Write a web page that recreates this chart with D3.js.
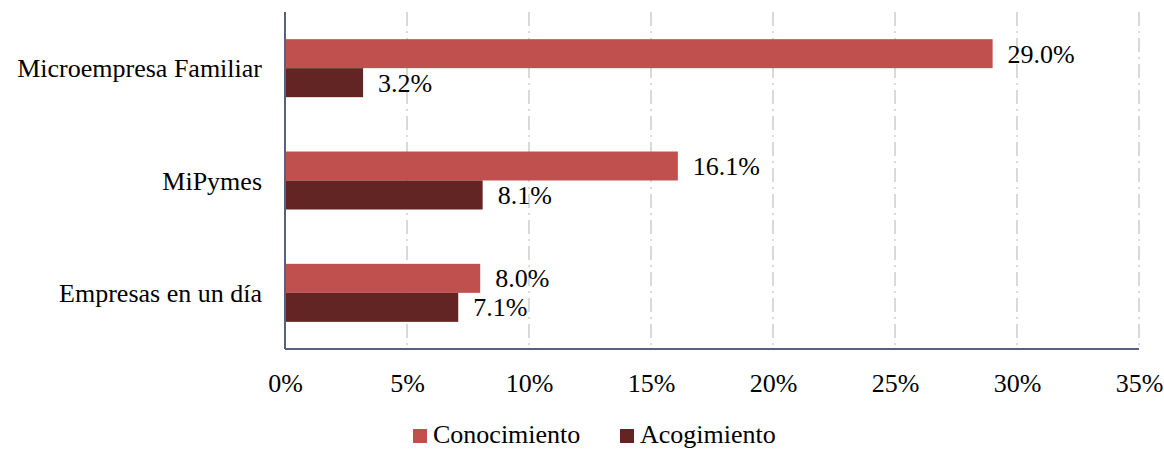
<!DOCTYPE html>
<html>
<head>
<meta charset="utf-8">
<script src="https://cdn.jsdelivr.net/npm/d3@7"></script>
<style>
  body { margin: 0; background: #fff; }
</style>
</head>
<body>
<div id="chart"></div>
<script>
// data
const categories = ["Microempresa Familiar", "MiPymes", "Empresas en un día"];
const seriesNames = ["Conocimiento", "Acogimiento"];
const conocimiento = [29.0, 16.1, 8.0];
const acogimiento = [3.2, 8.1, 7.1];
const xTicks = [0, 5, 10, 15, 20, 25, 30, 35];
const colors = ["#C0504D", "#632523"];

const fontFam = '"Liberation Serif"';
const fs = 26;

const width = 1164, height = 450;
const margin = { top: 12, right: 25, bottom: 101, left: 285 };
const innerW = width - margin.left - margin.right;
const innerH = height - margin.top - margin.bottom;

const svg = d3.select("#chart").append("svg")
  .attr("width", width)
  .attr("height", height);

const g = svg.append("g").attr("transform", `translate(${margin.left},${margin.top})`);

const x = d3.scaleLinear().domain([0, 35]).range([0, innerW]);
const y = d3.scaleBand().domain(categories).range([0, innerH]);
const barH = 29;

// gridlines
g.selectAll("line.grid")
  .data(xTicks.filter(t => t > 0))
  .enter().append("line")
  .attr("class", "grid")
  .attr("x1", d => x(d)).attr("x2", d => x(d))
  .attr("y1", 0).attr("y2", innerH)
  .attr("stroke", "#d9d9d9")
  .attr("stroke-width", 2)
  .attr("stroke-dasharray", "14,5,2,5");

// bars
const rows = categories.map((c, i) => ({ cat: c, vals: [conocimiento[i], acogimiento[i]] }));
const grp = g.selectAll("g.row").data(rows).enter().append("g")
  .attr("transform", d => `translate(0,${y(d.cat) + y.bandwidth() / 2 - barH})`);

grp.selectAll("rect").data(d => d.vals).enter().append("rect")
  .attr("x", 0)
  .attr("y", (d, i) => i * barH)
  .attr("width", d => x(d))
  .attr("height", barH)
  .attr("fill", (d, i) => colors[i]);

grp.selectAll("text.val").data(d => d.vals).enter().append("text")
  .attr("class", "val")
  .attr("x", d => x(d) + 15)
  .attr("y", (d, i) => i * barH + barH / 2)
  .attr("dy", "0.35em")
  .text(d => d.toFixed(1) + "%");

// axes
const xAxis = g.append("g").attr("transform", `translate(0,${innerH})`)
  .call(d3.axisBottom(x).tickValues(xTicks).tickSize(0).tickFormat(d => d + "%"));
xAxis.select(".domain").remove();
xAxis.selectAll("text").attr("dy", 0).attr("y", 43);

const yAxis = g.append("g")
  .call(d3.axisLeft(y).tickSize(0));
yAxis.select(".domain").remove();
yAxis.selectAll("text").attr("x", -23).attr("dy", "0.35em");

g.append("line").attr("x1", 0).attr("x2", 0).attr("y1", 0).attr("y2", innerH)
  .attr("stroke", "#56627a").attr("stroke-width", 2);
g.append("line").attr("x1", 0).attr("x2", innerW).attr("y1", innerH).attr("y2", innerH)
  .attr("stroke", "#56627a").attr("stroke-width", 2);

// legend
const legendX = [413, 620];
const legend = svg.append("g").selectAll("g").data(seriesNames).enter().append("g")
  .attr("transform", (d, i) => `translate(${legendX[i]},429)`);
legend.append("rect").attr("width", 14).attr("height", 14).attr("fill", (d, i) => colors[i]);
legend.append("text").attr("x", 20).attr("y", 5).attr("dy", "0.35em").text(d => d);

// one font for every text
svg.selectAll("text")
  .style("font-family", fontFam)
  .style("font-size", fs + "px")
  .attr("fill", "#000");
</script>
</body>
</html>
